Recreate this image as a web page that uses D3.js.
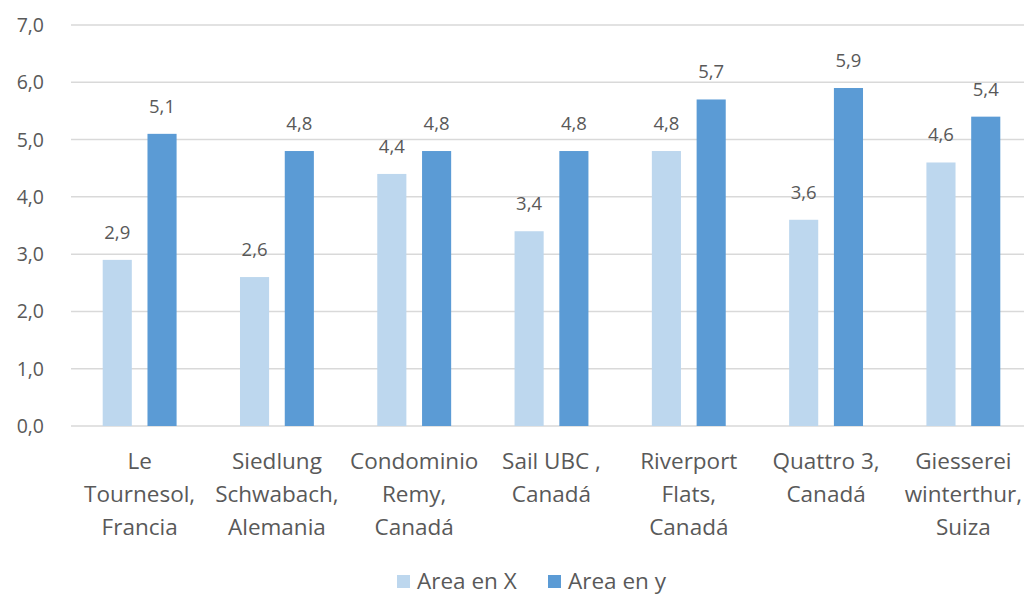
<!DOCTYPE html>
<html>
<head>
<meta charset="utf-8">
<script src="https://cdn.jsdelivr.net/npm/d3@7"></script>
<style>
  body { margin: 0; background: #fff; overflow: hidden; }
  svg { display: block; }
  text { font-family: "Open Sans", sans-serif; fill: #595959; }
</style>
</head>
<body>
<div id="chart"></div>
<script>
// data
const categories = [
    ["Le", "Tournesol,", "Francia"],
    ["Siedlung", "Schwabach,", "Alemania"],
    ["Condominio", "Remy,", "Canadá"],
    ["Sail UBC ,", "Canadá"],
    ["Riverport", "Flats,", "Canadá"],
    ["Quattro 3,", "Canadá"],
    ["Giesserei", "winterthur,", "Suiza"]
];
const areaX = [2.9, 2.6, 4.4, 3.4, 4.8, 3.6, 4.6];
const areaY = [5.1, 4.8, 4.8, 4.8, 5.7, 5.9, 5.4];
const seriesNames = ["Area en X", "Area en y"];
const yTicks = [0, 1, 2, 3, 4, 5, 6, 7];

const
    width = 1024, height = 595,
    margin = { top: 25, right: -8, bottom: 169, left: 71 },
    innerWidth = width - margin.left - margin.right,
    innerHeight = height - margin.top - margin.bottom;

const colors = d3.scaleOrdinal().domain(seriesNames).range(["#bdd7ee", "#5b9bd5"]);
const fmt = v => d3.format(".1f")(v).replace(".", ",");

const keys = categories.map((c, i) => "c" + i);
const rows = keys.map((k, i) => ({ key: k, lines: categories[i], vals: [areaX[i], areaY[i]] }));

const xScale = d3.scaleBand().domain(keys).range([0, innerWidth]).padding(0);
const xSub = d3.scaleBand().domain(seriesNames)
    .range([31.7, xScale.bandwidth() - 31.7]).paddingInner(0.35);
const yScale = d3.scaleLinear().domain([0, 7]).range([innerHeight, 0]);

const svg = d3.select("#chart").append("svg")
    .attr("width", width).attr("height", height);

const mainG = svg.append("g")
    .attr("transform", `translate(${margin.left},${margin.top})`);

// gridlines (they run off the right edge in the original)
mainG.append("g")
    .selectAll("line")
    .data(yTicks)
    .enter()
    .append("line")
    .attr("x1", 0).attr("x2", width - margin.left)
    .attr("y1", d => yScale(d)).attr("y2", d => yScale(d))
    .attr("stroke", "#d9d9d9").attr("stroke-width", 1.5);

// y labels
mainG.append("g")
    .selectAll("text")
    .data(yTicks)
    .enter()
    .append("text")
    .attr("text-anchor", "end")
    .attr("font-size", 19.5)
    .append("tspan")
    .attr("x", -27)
    .attr("y", d => yScale(d) + 7)
    .text(d => fmt(d));

// bars
const groups = mainG.selectAll("g.grp")
    .data(rows)
    .enter()
    .append("g")
    .attr("class", "grp")
    .attr("transform", d => `translate(${xScale(d.key)},0)`);

groups.selectAll("rect")
    .data(d => d.vals.map((v, j) => ({ name: seriesNames[j], v })))
    .enter()
    .append("rect")
    .attr("x", d => xSub(d.name))
    .attr("width", xSub.bandwidth())
    .attr("y", d => yScale(d.v))
    .attr("height", d => yScale(0) - yScale(d.v))
    .attr("fill", d => colors(d.name));

groups.selectAll("text.val")
    .data(d => d.vals.map((v, j) => ({ name: seriesNames[j], v })))
    .enter()
    .append("text")
    .attr("class", "val")
    .attr("text-anchor", "middle")
    .attr("font-size", 18.5)
    .append("tspan")
    .attr("x", d => xSub(d.name) + xSub.bandwidth() / 2)
    .attr("y", d => yScale(d.v) - 21)
    .text(d => fmt(d.v));

// category labels
groups.append("text")
    .attr("text-anchor", "middle")
    .attr("font-size", 22.5)
    .selectAll("tspan")
    .data(d => d.lines)
    .enter()
    .append("tspan")
    .attr("x", xScale.bandwidth() / 2)
    .attr("y", (d, i) => innerHeight + 43 + i * 33)
    .text(d => d);

// legend
const legend = svg.append("g")
    .selectAll("g")
    .data(seriesNames)
    .enter()
    .append("g")
    .attr("transform", (d, i) => `translate(${397 + i * 151},575)`);

legend.append("rect")
    .attr("width", 13).attr("height", 13)
    .attr("fill", d => colors(d));

legend.append("text")
    .attr("font-size", 22.5)
    .append("tspan")
    .attr("x", 20).attr("y", 14)
    .text(d => d);
</script>
</body>
</html>
